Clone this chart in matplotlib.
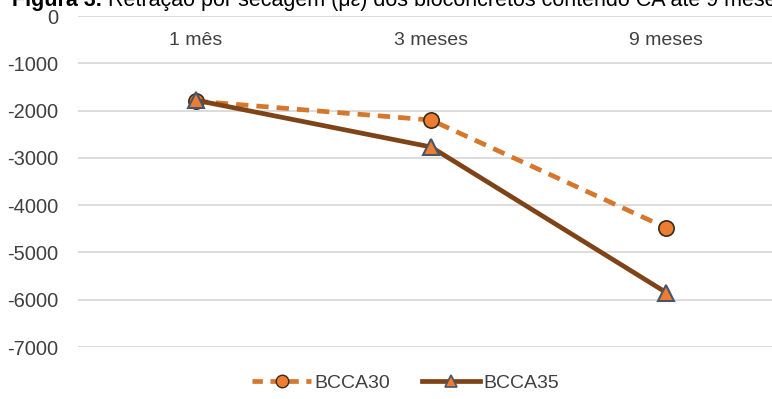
import matplotlib
matplotlib.use('Agg')
import matplotlib.pyplot as plt
from matplotlib.lines import Line2D

plt.rcParams['font.family'] = ['Liberation Sans', 'DejaVu Sans']

# ---- dados
categorias = ['1 mês', '3 meses', '9 meses']
bcca30 = [-1800, -2200, -4480]
bcca35 = [-1780, -2770, -5850]
yticks = [0, -1000, -2000, -3000, -4000, -5000, -6000, -7000]

W, H = 772, 399
fig = plt.figure(figsize=(W / 100, H / 100), dpi=100)
ax = fig.add_axes([78 / W, 1 - 347 / H, 706 / W, (347 - 16) / H])

x = list(range(len(categorias)))

cor30 = '#D5782E'
cor35 = '#7E4418'

ax.plot(x, bcca30, linestyle=(0, (2.6, 1.7)), color=cor30, linewidth=3.4,
        marker='o', markersize=11, markerfacecolor='#ED7D31',
        markeredgecolor='#3A2A1A', markeredgewidth=1.2, zorder=3)
ax.plot(x, bcca35, linestyle='-', color=cor35, linewidth=3.4,
        marker='^', markersize=12, markerfacecolor='#ED7D31',
        markeredgecolor='#4A5568', markeredgewidth=1.5, zorder=4)

ax.set_xlim(-0.5, 2.5)
ax.set_ylim(-7000, 0)
ax.set_yticks(yticks)
ax.set_yticklabels([str(v) for v in yticks])
ax.grid(axis='y', color='#D9D9D9', linewidth=1.3)
ax.set_axisbelow(True)
for s in ax.spines.values():
    s.set_visible(False)

ax.xaxis.tick_top()
ax.set_xticks(x)
ax.set_xticklabels(categorias)
ax.tick_params(axis='x', length=0, pad=-24, labelsize=14, labelcolor='#404040')
ax.tick_params(axis='y', length=0, pad=14, labelsize=14.5, labelcolor='#404040')

# legenda
handles = [
    Line2D([], [], linestyle=(0, (2.2, 1.6)), color=cor30, linewidth=3.4,
           marker='o', markersize=9, markerfacecolor='#ED7D31',
           markeredgecolor='#3A2A1A', markeredgewidth=1.0),
    Line2D([], [], linestyle='-', color=cor35, linewidth=3.4,
           marker='^', markersize=9, markerfacecolor='#ED7D31',
           markeredgecolor='#4A5568', markeredgewidth=1.2),
]
fig.legend(handles, ['BCCA30', 'BCCA35'], loc='center',
           bbox_to_anchor=(406 / W, 1 - 383 / H), ncol=2, frameon=False,
           fontsize=14, handlelength=3.0, handletextpad=0.2, columnspacing=1.6,
           labelcolor='#404040')

# título (cortado no topo, como na imagem)
t1 = fig.text(12 / W, 1 - 6 / H, 'Figura 3.', fontsize=15.5, fontweight='bold',
              va='baseline', ha='left')
fig.canvas.draw()
bb = t1.get_window_extent()
fig.text((bb.x1 + 6) / W, 1 - 6 / H,
         'Retração por secagem (με) dos bioconcretos contendo CA até 9 meses',
         fontsize=15.5, va='baseline', ha='left')

fig.savefig('out.png', dpi=100)
